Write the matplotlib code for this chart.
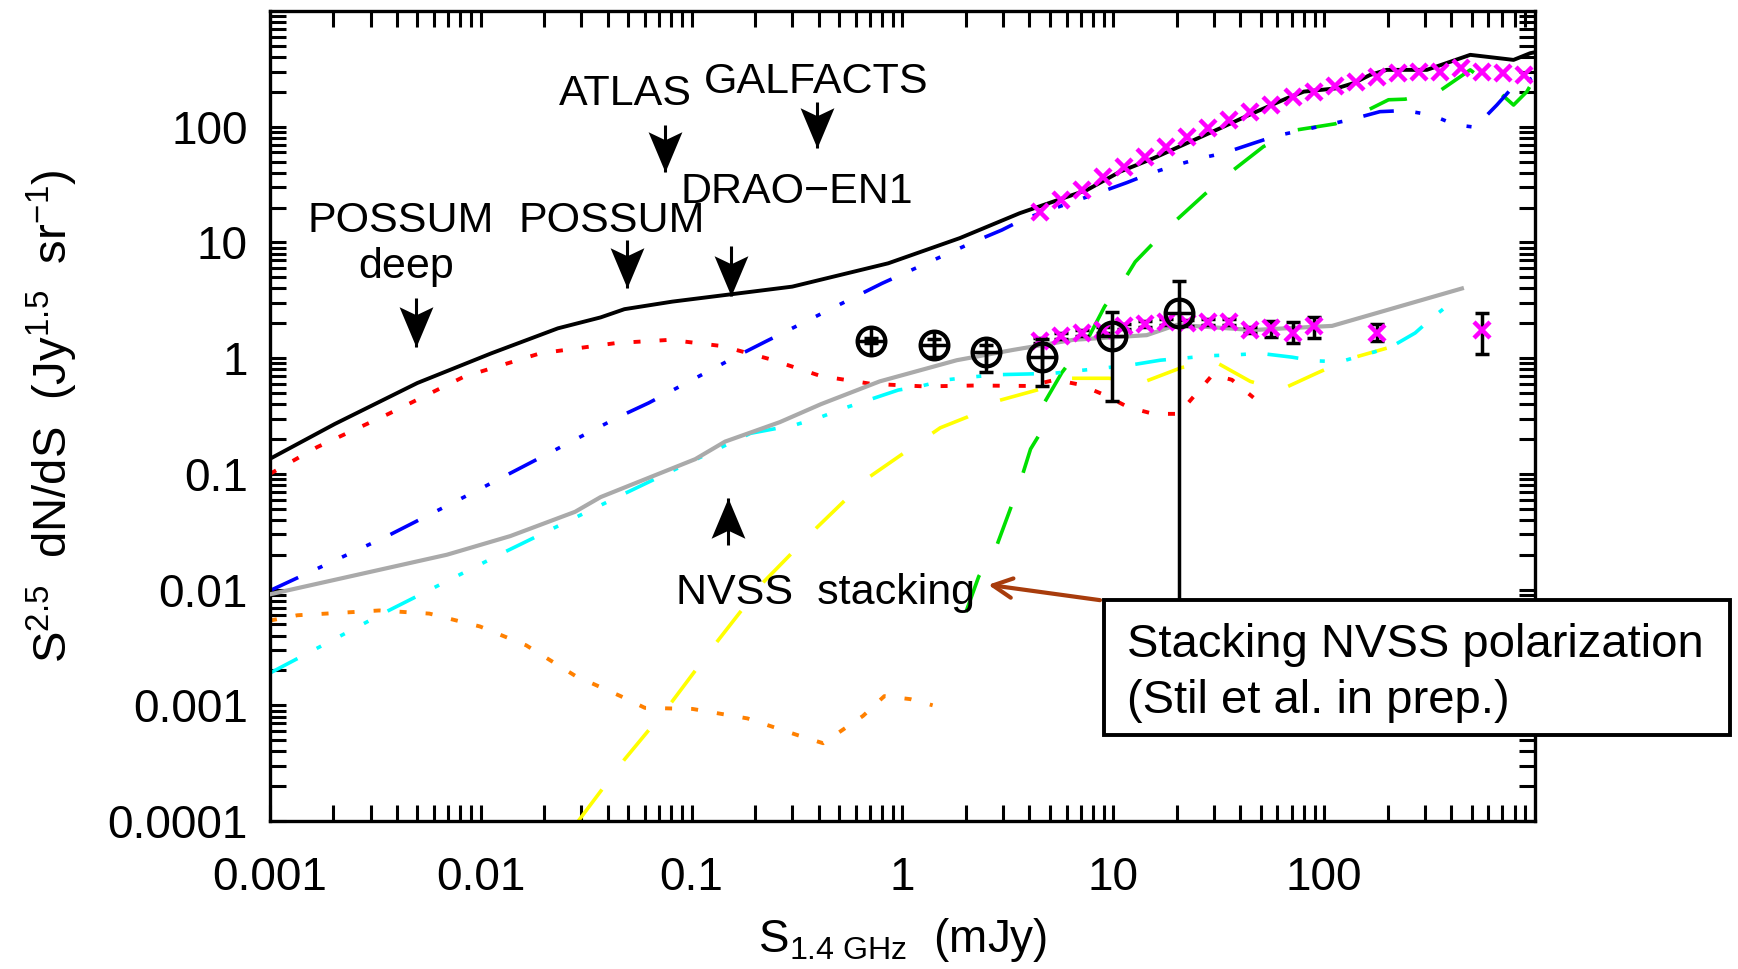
import matplotlib
matplotlib.use('Agg')
import matplotlib.pyplot as plt
from matplotlib.path import Path
from matplotlib.patches import Rectangle
from matplotlib.ticker import FixedLocator, LogLocator, NullFormatter

plt.rcParams['font.family'] = ['Liberation Sans', 'DejaVu Sans']
plt.rcParams['mathtext.fontset'] = 'custom'
plt.rcParams['mathtext.rm'] = 'Liberation Sans'
plt.rcParams['mathtext.it'] = 'Liberation Sans'
plt.rcParams['mathtext.default'] = 'regular'

# ---------------- data (S in mJy, S^2.5 dN/dS) ----------------
total_S = [0.001, 0.00203, 0.005, 0.0112, 0.0232, 0.037, 0.048, 0.081, 0.30, 0.855, 1.87, 3.6, 7.5, 10.8,
           15.5, 22.3, 32.1, 46, 66.5, 80, 115, 138, 165, 198, 307, 493, 791, 949, 1000]
total_V = [0.135, 0.27, 0.61, 1.10, 1.81, 2.25, 2.65, 3.08, 4.15, 6.6, 10.9, 17.9, 28.4, 41,
           53.4, 72, 97, 131, 176, 201, 215, 238, 280, 310, 310, 418, 378, 432, 440]

red_S = [0.001, 0.00167, 0.00365, 0.0083, 0.0191, 0.0437, 0.079, 0.14, 0.235, 0.41, 0.71, 1.27, 2.2,
         4.0, 5.3, 6.95, 9.1, 11.8, 15.5, 20.4, 24.4, 29.6, 36.5, 46.2]
red_V = [0.10, 0.17, 0.33, 0.69, 1.10, 1.35, 1.44, 1.27, 0.98, 0.70, 0.60, 0.57, 0.58,
         0.575, 0.65, 0.59, 0.48, 0.376, 0.33, 0.33, 0.48, 0.72, 0.65, 0.456]

orange_S = [0.001, 0.00135, 0.0025, 0.0033, 0.0057, 0.0099, 0.0164, 0.028, 0.046, 0.06, 0.101,
            0.184, 0.32, 0.42, 0.65, 0.82, 1.09, 1.39]
orange_V = [0.0054, 0.006, 0.0064, 0.0066, 0.0062, 0.0048, 0.0033, 0.0018, 0.0012, 0.00095, 0.00093,
            0.00077, 0.00055, 0.00047, 0.00081, 0.0012, 0.00113, 0.001]

blue_S = [0.001, 0.0036, 0.0099, 0.045, 0.0625, 0.167, 0.224, 0.596, 0.8, 2.2, 2.96, 3.75, 8.4, 11.6,
          14.7, 19.4, 25.8, 33.3, 46.2, 58.6, 133, 184, 242, 324, 418, 520, 659, 776, 1000]
blue_V = [0.0098, 0.029, 0.074, 0.31, 0.41, 1.06, 1.39, 3.39, 4.43, 10.2, 12.8, 15.9, 26.6, 32.9,
          39, 46, 53.4, 59, 72, 83, 115, 135, 138, 126, 104, 99, 154, 215, 270]

gray_S = [0.001, 0.0069, 0.0138, 0.028, 0.037, 0.104, 0.144, 0.262, 0.41, 0.78, 1.81, 3.36, 6.46,
          14.4, 20, 46, 109, 450]
gray_V = [0.0091, 0.020, 0.029, 0.047, 0.063, 0.134, 0.19, 0.28, 0.40, 0.63, 0.96, 1.18, 1.44,
          1.58, 1.94, 1.75, 1.9, 4.0]

cyan_S = [0.001, 0.0036, 0.0129, 0.046, 0.19, 0.31, 0.41, 0.53, 0.69, 0.955, 1.23, 1.62, 2.17, 2.85,
          3.96, 5.2, 8.9, 12, 16.7, 21.5, 28.8, 38.5, 49.8, 70.3, 89, 119, 206, 270, 330, 418]
cyan_V = [0.0019, 0.0065, 0.021, 0.065, 0.224, 0.265, 0.31, 0.37, 0.435, 0.53, 0.575, 0.65, 0.69, 0.72,
          0.73, 0.74, 0.82, 0.87, 0.96, 1.0, 1.05, 1.07, 1.10, 1.02, 0.95, 0.93, 1.24, 1.65, 2.28, 3.2]

yellow_S = [0.029, 0.048, 0.078, 0.128, 0.22, 0.39, 0.69, 1.51, 2.03, 2.86, 4.34, 6.2, 9.5, 14.2,
            21.1, 30.4, 44.6, 61.8, 92, 130, 198]
yellow_V = [0.0001, 0.00034, 0.00099, 0.0033, 0.0117, 0.034, 0.093, 0.25, 0.31, 0.43, 0.53, 0.67, 0.67,
            0.63, 0.83, 0.93, 0.63, 0.53, 0.74, 0.98, 1.22]

green_S = [2.0, 2.3, 2.8, 3.25, 3.7, 4.05, 4.4, 4.7, 5.7, 7.7, 9.1, 11.6, 12.7, 15, 19.9, 27.2, 37.2,
           51.5, 74, 113, 162, 202, 242, 349, 493, 671, 791, 915, 1000]
green_V = [0.0064, 0.013, 0.024, 0.05, 0.097, 0.164, 0.21, 0.41, 0.75, 1.56, 2.8, 5.2, 6.8, 9.3, 15.6,
           26.2, 42.4, 67.3, 93.8, 106, 140, 171, 173, 201, 310, 201, 154, 201, 266]

# total-intensity counts (magenta crosses)
stokesI_S = [4.47, 5.62, 7.08, 8.91, 11.2, 14.1, 17.8, 22.4, 28.2, 35.5, 44.7, 56.2, 70.8, 89.1,
             112, 141, 178, 224, 282, 355, 447, 562, 708, 891]
stokesI_V = [18.5, 23.3, 28.4, 37.1, 45.2, 55.2, 67.3, 82.2, 97.1, 114.6, 135, 154, 182, 201,
             225, 245, 271, 290, 299, 299, 320, 299, 290, 280]

# polarized counts (magenta crosses + black error bars)
pol_S = [4.47, 5.62, 7.08, 8.91, 11.2, 14.1, 17.8, 22.4, 28.2, 35.5, 44.7, 56.2, 70.8, 89.1, 178, 562]
pol_V = [1.42, 1.55, 1.64, 1.76, 1.88, 1.96, 2.06, 2.03, 2.05, 2.07, 1.76, 1.81, 1.64, 1.90, 1.66, 1.75]
pol_lo = [1.34, 1.46, 1.55, 1.66, 1.77, 1.85, 1.94, 1.91, 1.93, 1.95, 1.66, 1.52, 1.36, 1.49, 1.42, 1.09]
pol_hi = [1.50, 1.64, 1.74, 1.86, 1.99, 2.08, 2.18, 2.15, 2.17, 2.19, 1.86, 2.11, 2.05, 2.29, 1.98, 2.47]

# NVSS stacking (circles with plus)
stack_S = [0.708, 1.41, 2.48, 4.58, 9.85, 20.4]
stack_V = [1.42, 1.30, 1.12, 1.02, 1.56, 2.44]
stack_lo = [1.34, 1.02, 0.76, 0.57, 0.43, 0.003]
stack_hi = [1.50, 1.45, 1.30, 1.46, 2.52, 4.68]

# survey annotations: label, label x, label baseline y, arrow x, arrow tail y, arrow tip y
survey_labels = ['POSSUM', 'POSSUM', 'ATLAS', 'GALFACTS', 'DRAO\u2212EN1', 'NVSS  stacking']
survey_text_x = [0.00418, 0.0418, 0.0483, 0.389, 0.314, 0.43]
survey_text_y = [12.3, 12.3, 154, 196, 21.9, 0.0075]
arrow_x = [0.00495, 0.0494, 0.0748, 0.394, 0.154, 0.148]
arrow_tail = [3.31, 10.5, 103.5, 164, 9.25, 0.0243]
arrow_tip = [1.25, 4.05, 40.6, 65.6, 3.43, 0.062]

x_ticks = [0.001, 0.01, 0.1, 1, 10, 100]
x_ticklabels = ['0.001', '0.01', '0.1', '1', '10', '100']
y_ticks = [0.0001, 0.001, 0.01, 0.1, 1, 10, 100]
y_ticklabels = ['0.0001', '0.001', '0.01', '0.1', '1', '10', '100']

# ---------------- figure ----------------
fig = plt.figure(figsize=(17.38, 9.69), dpi=100)
ax = fig.add_axes([0.15535, 0.15273, 0.72785, 0.83591])
ax.set_xscale('log')
ax.set_yscale('log')
ax.set_xlim(1e-3, 1e3)
ax.set_ylim(1e-4, 1e3)

dashdot3 = (0, (8.6, 6, 1.4, 6, 1.4, 6, 1.4, 6))
longdash = (0, (10.9, 10))
dotted = (0, (1.8, 4.9))

ax.plot(orange_S, orange_V, color='#ff8000', lw=2.8, ls=dotted, zorder=2)
ax.plot(yellow_S, yellow_V, color='#ffff00', lw=2.6, ls=longdash, zorder=2)
ax.plot(green_S, green_V, color='#00e000', lw=2.6, ls=longdash, zorder=2)
ax.plot(cyan_S, cyan_V, color='#00ffff', lw=2.6, ls=dashdot3, zorder=2)
ax.plot(blue_S, blue_V, color='#0000ff', lw=2.6, ls=dashdot3, zorder=2)
ax.plot(red_S, red_V, color='#ff0000', lw=2.8, ls=dotted, zorder=2)
ax.plot(gray_S, gray_V, color='#aaaaaa', lw=3.0, zorder=3)
ax.plot(total_S, total_V, color='black', lw=2.8, zorder=4)

ax.plot(stokesI_S, stokesI_V, ls='none', marker='x', ms=12, mew=3.2, color='#ff00ff', zorder=6)

pol_err = [[v - l for v, l in zip(pol_V, pol_lo)], [h - v for v, h in zip(pol_V, pol_hi)]]
ax.errorbar(pol_S, pol_V, yerr=pol_err, fmt='none', ecolor='black', elinewidth=2.5,
            capsize=4.7, capthick=2.5, zorder=5)
ax.plot(pol_S, pol_V, ls='none', marker='x', ms=12, mew=3.2, color='#ff00ff', zorder=6)

st_err = [[v - l for v, l in zip(stack_V, stack_lo)], [h - v for v, h in zip(stack_V, stack_hi)]]
ax.errorbar(stack_S, stack_V, yerr=st_err, fmt='none', ecolor='black', elinewidth=2.5,
            capsize=4.7, capthick=2.5, zorder=7)
ax.plot(stack_S, stack_V, ls='none', marker='o', ms=20, mfc='none', mec='black', mew=3.0, zorder=7)
ax.plot(stack_S, stack_V, ls='none', marker='+', ms=19, mec='black', mew=2.5, zorder=7)

# arrow-head markers (tip at origin)
head_down = Path([(0, 0), (0.42, 1.0), (0, 0.8), (-0.42, 1.0), (0, 0)],
                 [Path.MOVETO, Path.LINETO, Path.LINETO, Path.LINETO, Path.CLOSEPOLY])
head_up = Path([(0, 0), (0.42, -1.0), (0, -0.8), (-0.42, -1.0), (0, 0)],
               [Path.MOVETO, Path.LINETO, Path.LINETO, Path.LINETO, Path.CLOSEPOLY])

for lab, tx, ty, axx, atail, atip in zip(survey_labels, survey_text_x, survey_text_y,
                                          arrow_x, arrow_tail, arrow_tip):
    ax.text(tx, ty, lab, ha='center', va='baseline', fontsize=31, zorder=8)
    ax.plot([axx, axx], [atail, atip], color='black', lw=2.2, zorder=8, solid_capstyle='butt')
    mk = head_down if atip < atail else head_up
    ax.plot([axx], [atip], ls='none', marker=mk, ms=58, color='black', mew=0, zorder=8)
ax.text(0.00442, 4.9, 'deep', ha='center', va='baseline', fontsize=31, zorder=8)

# ticks
ax.xaxis.set_major_locator(FixedLocator(x_ticks))
ax.set_xticklabels(x_ticklabels)
ax.yaxis.set_major_locator(FixedLocator(y_ticks))
ax.set_yticklabels(y_ticklabels)
ax.xaxis.set_minor_locator(LogLocator(base=10, subs=range(2, 10), numticks=20))
ax.yaxis.set_minor_locator(LogLocator(base=10, subs=range(2, 10), numticks=20))
ax.xaxis.set_minor_formatter(NullFormatter())
ax.yaxis.set_minor_formatter(NullFormatter())
ax.tick_params(which='both', direction='in', top=True, right=True, length=11.5, width=2.2,
               labelsize=33)
ax.tick_params(axis='x', which='major', pad=25)
ax.tick_params(axis='y', which='major', pad=16)
for sp in ax.spines.values():
    sp.set_linewidth(2.4)

ax.set_xlabel('S$_{1.4\\ GHz}$  (mJy)', fontsize=33, labelpad=12)
ax.set_ylabel('S$^{2.5}$  dN/dS  (Jy$^{1.5}$  sr$^{-1}$)', fontsize=34, labelpad=20)

# brown arrow from box
ax.annotate('', xy=(2.55, 0.011), xytext=(8.65, 0.0081), xycoords='data', textcoords='data',
            arrowprops=dict(arrowstyle='->', color='#a83c0c', lw=3, mutation_scale=35,
                            shrinkA=0, shrinkB=0), zorder=8, annotation_clip=False)

# annotation box
box = Rectangle((0.6352, 0.2415), 0.3602, 0.1393, transform=fig.transFigure,
                facecolor='white', edgecolor='black', lw=2.8, zorder=10)
fig.add_artist(box)
fig.text(0.6485, 0.322, 'Stacking NVSS polarization', fontsize=34, ha='left', va='baseline', zorder=11)
fig.text(0.6485, 0.2642, '(Stil et al. in prep.)', fontsize=34, ha='left', va='baseline', zorder=11)

fig.savefig('out.png', dpi=100)
